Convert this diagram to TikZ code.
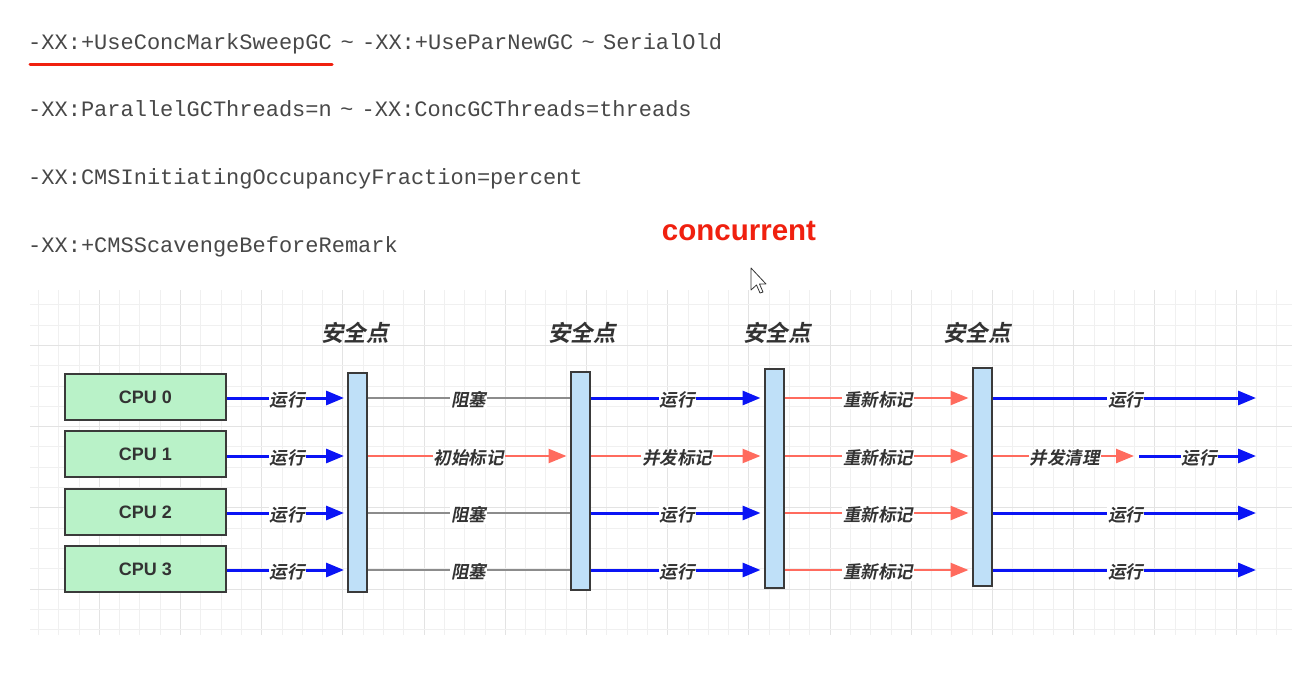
\documentclass[tikz,border=0pt]{standalone}
\usepackage{fontspec}
\setmainfont{Liberation Sans}
\setmonofont{Liberation Mono}
\newfontfamily\cjk[UprightFont=* Bold,FakeSlant=0.2]{Noto Sans CJK SC}
\usetikzlibrary{arrows.meta}
\definecolor{cpugreen}{HTML}{B9F2C8}
\definecolor{barblue}{HTML}{BFE0F8}
\definecolor{runblue}{HTML}{0A14F5}
\definecolor{gcred}{HTML}{FF6B5E}
\definecolor{blockgray}{HTML}{8C8C8C}
\definecolor{txt}{HTML}{333333}
\definecolor{mono}{HTML}{484848}
\definecolor{edge}{HTML}{3A3A3A}
\definecolor{ured}{HTML}{F0200F}
\definecolor{gridminor}{HTML}{F0F0F0}
\definecolor{gridmajor}{HTML}{E3E3E3}
\newcommand{\tld}{\hspace{8.5pt}{\rmfamily\textasciitilde}\hspace{8.5pt}}
\tikzset{
  monotext/.style={anchor=base west, inner sep=0pt, text=mono, font=\ttfamily\fontsize{22}{26}\selectfont},
  cpubox/.style={draw=edge, line width=2pt, fill=cpugreen, minimum width=161pt, minimum height=46pt, inner sep=0pt, text=txt, font=\bfseries\fontsize{18}{21}\selectfont},
  barbox/.style={draw=edge, line width=2pt, fill=barblue, minimum width=19pt, inner sep=0pt},
  sptitle/.style={text=txt, inner sep=0pt, font=\cjk\fontsize{22.5}{26}\selectfont},
  lbl/.style={fill=white, inner sep=1pt, text=txt, font=\cjk\fontsize{17.5}{20}\selectfont, yshift=-2pt},
  runarrow/.style={draw=runblue, line width=3pt, -{Triangle[length=18pt,width=14pt]}, shorten >=3pt},
  gcarrow/.style={draw=gcred, line width=2.5pt, -{Triangle[length=18pt,width=14pt]}, shorten >=3pt},
  blockline/.style={draw=blockgray, line width=2pt},
  gminor/.style={draw=gridminor, line width=0.8pt},
  gmajor/.style={draw=gridmajor, line width=0.8pt}
}
\begin{document}
\begin{tikzpicture}[x=1pt,y=-1pt]
\useasboundingbox[fill=white] (0,0) rectangle (1300,679);

% grid
\foreach \i in {0,...,61}{
  \pgfmathsetmacro\gx{38.3+20.3*\i}
  \pgfmathtruncatemacro\m{mod(\i+1,4)}
  \ifnum\m=0 \draw[gmajor] (\gx,290) -- (\gx,635); \else \draw[gminor] (\gx,290) -- (\gx,635); \fi
}
\foreach \j in {0,...,16}{
  \pgfmathsetmacro\gy{304.7+20.3*\j}
  \pgfmathtruncatemacro\m{mod(\j+2,4)}
  \ifnum\m=0 \draw[gmajor] (30,\gy) -- (1292,\gy); \else \draw[gminor] (30,\gy) -- (1292,\gy); \fi
}

% top options text
\node[monotext] (l1a) at (28,50) {-XX:+UseConcMarkSweepGC};
\node[monotext] (l1b) at (l1a.base east) {\tld-XX:+UseParNewGC\tld SerialOld};
\draw[ured, line width=3pt, line cap=round] ([xshift=2pt,yshift=-15pt]l1a.base west) -- ([yshift=-15pt]l1a.base east);
\node[monotext] (l2) at (28,117) {-XX:ParallelGCThreads=n\tld-XX:ConcGCThreads=threads};
\node[monotext] (l3) at (28,185) {-XX:CMSInitiatingOccupancyFraction=percent};
\node[monotext] (l4) at (28,252) {-XX:+CMSScavengeBeforeRemark};

\node[text=ured, inner sep=0pt, font=\bfseries\fontsize{29.5}{34}\selectfont] (conc) at (739,231) {concurrent};

% mouse cursor
\draw[fill=white, draw=black!80, line width=0.8pt, line join=round]
  (751,268) -- (751,290) -- (756.5,285) -- (760,293) -- (763,292) -- (759.5,284) -- (766,284) -- cycle;

% CPUs
\node[cpubox] (cpu0) at (145.5,397) {CPU 0};
\node[cpubox] (cpu1) at (145.5,454) {CPU 1};
\node[cpubox] (cpu2) at (145.5,512) {CPU 2};
\node[cpubox] (cpu3) at (145.5,569) {CPU 3};

% safe point bars
\node[barbox, minimum height=219pt] (b1) at (357.5,482.5) {};
\node[barbox, minimum height=218pt] (b2) at (580,481) {};
\node[barbox, minimum height=219pt] (b3) at (774,478.5) {};
\node[barbox, minimum height=218pt] (b4) at (982,477) {};

\node[sptitle] (s1) at (355,333) {安全点};
\node[sptitle] (s2) at (582,333) {安全点};
\node[sptitle] (s3) at (777,333) {安全点};
\node[sptitle] (s4) at (977,333) {安全点};

% row reference coordinates
\coordinate (r0) at (0,398);
\coordinate (r1) at (0,456);
\coordinate (r2) at (0,513);
\coordinate (r3) at (0,570);
\coordinate (e0) at (1259,398);
\coordinate (e1) at (1259,456);
\coordinate (e2) at (1259,513);
\coordinate (e3) at (1259,570);
\coordinate (m1) at (1137,456);
\coordinate (m1b) at (1139,456);

% CPU -> safe point 1
\draw[runarrow] (cpu0.east |- r0) -- node[lbl] (t00) {运行} (b1.west |- r0);
\draw[runarrow] (cpu1.east |- r1) -- node[lbl] (t01) {运行} (b1.west |- r1);
\draw[runarrow] (cpu2.east |- r2) -- node[lbl] (t02) {运行} (b1.west |- r2);
\draw[runarrow] (cpu3.east |- r3) -- node[lbl] (t03) {运行} (b1.west |- r3);

% safe point 1 -> 2
\draw[blockline] (b1.east |- r0) -- node[lbl] (t10) {阻塞} (b2.west |- r0);
\draw[gcarrow] (b1.east |- r1) -- node[lbl] (t11) {初始标记} (b2.west |- r1);
\draw[blockline] (b1.east |- r2) -- node[lbl] (t12) {阻塞} (b2.west |- r2);
\draw[blockline] (b1.east |- r3) -- node[lbl] (t13) {阻塞} (b2.west |- r3);

% safe point 2 -> 3
\draw[runarrow] (b2.east |- r0) -- node[lbl] (t20) {运行} (b3.west |- r0);
\draw[gcarrow] (b2.east |- r1) -- node[lbl] (t21) {并发标记} (b3.west |- r1);
\draw[runarrow] (b2.east |- r2) -- node[lbl] (t22) {运行} (b3.west |- r2);
\draw[runarrow] (b2.east |- r3) -- node[lbl] (t23) {运行} (b3.west |- r3);

% safe point 3 -> 4
\draw[gcarrow] (b3.east |- r0) -- node[lbl] (t30) {重新标记} (b4.west |- r0);
\draw[gcarrow] (b3.east |- r1) -- node[lbl] (t31) {重新标记} (b4.west |- r1);
\draw[gcarrow] (b3.east |- r2) -- node[lbl] (t32) {重新标记} (b4.west |- r2);
\draw[gcarrow] (b3.east |- r3) -- node[lbl] (t33) {重新标记} (b4.west |- r3);

% after safe point 4
\draw[runarrow] (b4.east |- r0) -- node[lbl] (t40) {运行} (e0);
\draw[gcarrow] (b4.east |- r1) -- node[lbl] (t41) {并发清理} (m1);
\draw[runarrow] (m1b) -- node[lbl] (t42) {运行} (e1);
\draw[runarrow] (b4.east |- r2) -- node[lbl] (t43) {运行} (e2);
\draw[runarrow] (b4.east |- r3) -- node[lbl] (t44) {运行} (e3);
\end{tikzpicture}
\end{document}
